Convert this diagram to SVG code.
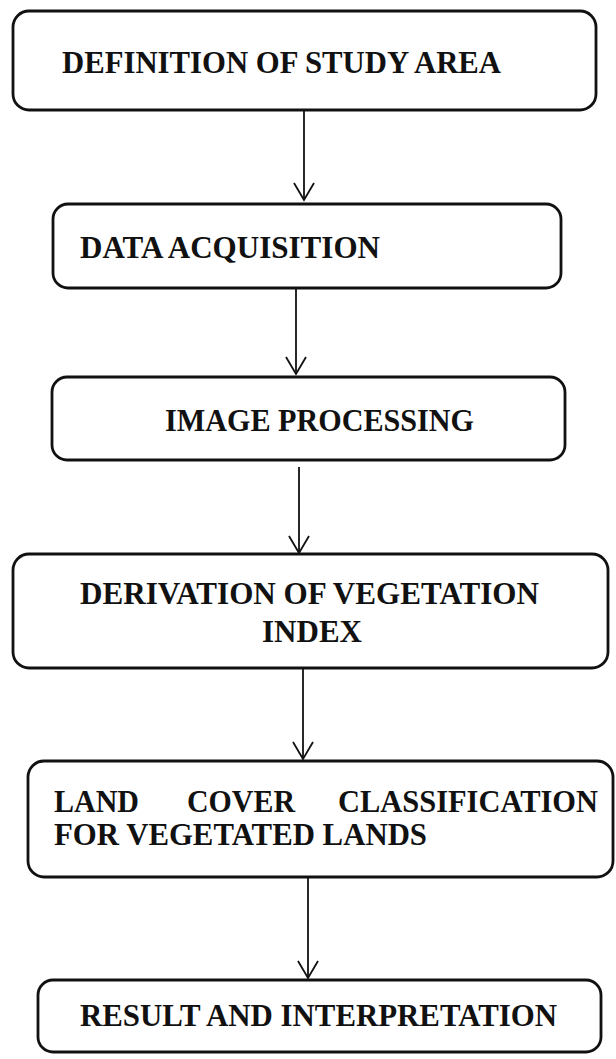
<svg xmlns="http://www.w3.org/2000/svg" width="616" height="1059" viewBox="0 0 616 1059">
<style>
.box{fill:#fff;stroke:#111;stroke-width:2.8}
.lbl{font-family:"Liberation Serif","Times New Roman",serif;font-weight:bold;font-size:32px;fill:#111}
.conn{stroke:#111;stroke-width:1.8;fill:none}
.head{stroke:#111;stroke-width:1.8;fill:none;stroke-linejoin:miter}
</style>
<rect width="616" height="1059" fill="#fff"/>
<g id="connectors">
<path class="conn" d="M304 111V200"/><path class="head" d="M294 183L304 200L314 183"/>
<path class="conn" d="M296 288V374"/><path class="head" d="M286 357L296 374L306 357"/>
<path class="conn" d="M299 467V553"/><path class="head" d="M289 536L299 553L309 536"/>
<path class="conn" d="M303 668V759"/><path class="head" d="M293 742L303 759L313 742"/>
<path class="conn" d="M308 877V978"/><path class="head" d="M298 961L308 978L318 961"/>
</g>
<g id="n1"><rect class="box" x="13" y="11" width="583" height="99" rx="16"/>
<text class="lbl" x="62" y="73" textLength="439" lengthAdjust="spacingAndGlyphs">DEFINITION OF STUDY AREA</text></g>
<g id="n2"><rect class="box" x="53" y="204" width="508" height="84" rx="15"/>
<text class="lbl" x="80" y="258" textLength="300" lengthAdjust="spacingAndGlyphs">DATA ACQUISITION</text></g>
<g id="n3"><rect class="box" x="52" y="377" width="513" height="83" rx="15"/>
<text class="lbl" x="165" y="431" textLength="309" lengthAdjust="spacingAndGlyphs">IMAGE PROCESSING</text></g>
<g id="n4"><rect class="box" x="13" y="554" width="595" height="114" rx="16"/>
<text class="lbl" x="80" y="604" textLength="459" lengthAdjust="spacingAndGlyphs">DERIVATION OF VEGETATION</text>
<text class="lbl" x="262" y="642" textLength="100" lengthAdjust="spacingAndGlyphs">INDEX</text></g>
<g id="n5"><rect class="box" x="28" y="761" width="585" height="116" rx="16"/>
<text class="lbl" x="54" y="812" textLength="85" lengthAdjust="spacingAndGlyphs">LAND</text>
<text class="lbl" x="187" y="812" textLength="108" lengthAdjust="spacingAndGlyphs">COVER</text>
<text class="lbl" x="338" y="812" textLength="260" lengthAdjust="spacingAndGlyphs">CLASSIFICATION</text>
<text class="lbl" x="54" y="845" textLength="373" lengthAdjust="spacingAndGlyphs">FOR VEGETATED LANDS</text></g>
<g id="n6"><rect class="box" x="38" y="980" width="563" height="72" rx="15"/>
<text class="lbl" x="80" y="1026" textLength="477" lengthAdjust="spacingAndGlyphs">RESULT AND INTERPRETATION</text></g>
</svg>
